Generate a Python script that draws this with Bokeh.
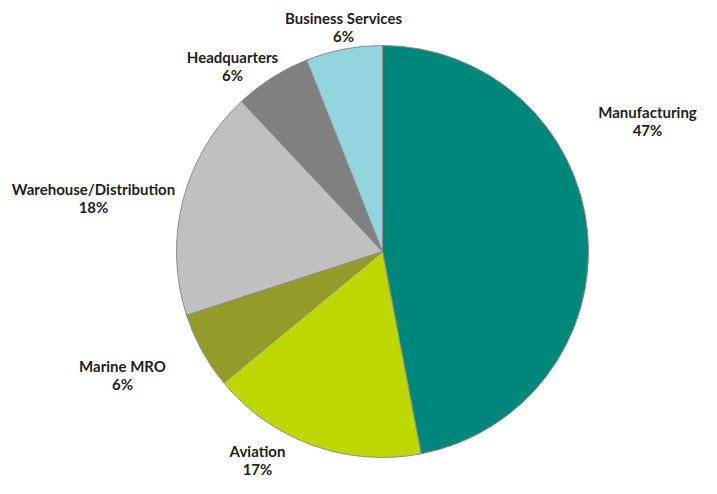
import math
from bokeh.plotting import figure
from bokeh.models import Range1d, ColumnDataSource
from bokeh.core.properties import value
from bokeh.embed import file_html
from bokeh.resources import INLINE

# ---- data ----
categories = ["Manufacturing", "Aviation", "Marine MRO", "Warehouse/Distribution", "Headquarters", "Business Services"]
shares = [47, 17, 6, 18, 6, 6]
colors = ["#00877B", "#BDD700", "#959B29", "#C0C0C0", "#808080", "#93D4DF"]

# ---- layout (pixel-like coordinates of the picture) ----
W, H = 701, 478
def to_data(px, py):
    return px, H - py

cx, cy = to_data(382, 251)
R = 206
# label centres (picture pixels), one per category
label_px = [(647, 120), (257, 459), (122, 374), (93, 197), (232, 65), (343, 26)]

total = sum(shares)
starts, ends = [], []
acc = 0.0
for s in shares:
    starts.append(math.pi / 2 - acc / total * 2 * math.pi)
    acc += s
    ends.append(math.pi / 2 - acc / total * 2 * math.pi)

src = ColumnDataSource(dict(start=starts, end=ends, color=colors, cat=categories))

p = figure(width=W, height=H, output_backend="svg", toolbar_location=None,
           x_range=Range1d(0, W), y_range=Range1d(0, H), min_border=0)
p.axis.visible = False
p.grid.visible = False
p.outline_line_color = None
p.background_fill_color = "white"

p.wedge(x=cx, y=cy, radius=R, start_angle="start", end_angle="end", direction="clock",
        fill_color="color", line_color="#8C8C8C", line_width=1, source=src)

lx, ly1, ly2, t1, t2 = [], [], [], [], []
for (px, py), c, s in zip(label_px, categories, shares):
    x, y = to_data(px, py)
    lx.append(x)
    ly1.append(y + 9)
    ly2.append(y - 9)
    t1.append(c)
    t2.append(f"{s}%")

lsrc = ColumnDataSource(dict(x=lx, y1=ly1, y2=ly2, t1=t1, t2=t2))
for ycol, tcol in (("y1", "t1"), ("y2", "t2")):
    p.text(x="x", y=ycol, text=tcol, source=lsrc, text_align="center", text_baseline="middle",
           text_font=value("Lato"), text_font_style="bold", text_font_size="15px",
           text_color="#1E1E1E")

open("out.html", "w").write(file_html(p, INLINE))
